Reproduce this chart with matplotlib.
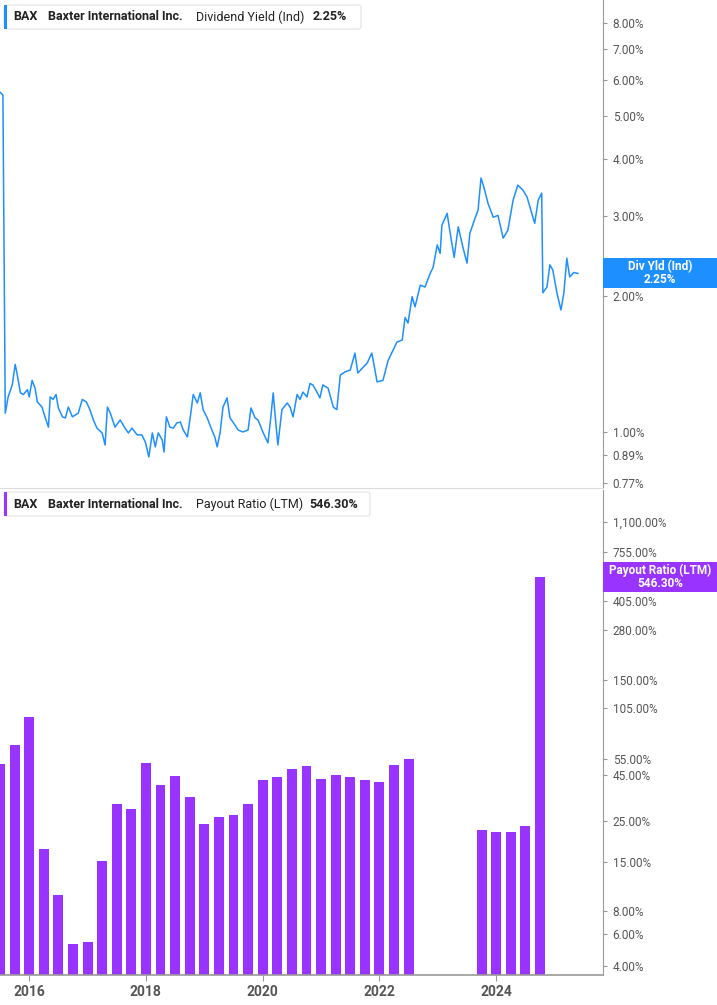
import matplotlib
matplotlib.use("Agg")
import matplotlib.pyplot as plt
from matplotlib.patches import FancyBboxPatch, Rectangle
import numpy as np

plt.rcParams["font.family"] = "Roboto"

# Dividend yield (%) by decimal year
yield_years = [2015.50,2015.55,2015.59,2015.64,2015.71,2015.76,2015.79,2015.85,2015.90,2015.97,2016.00,2016.05,2016.10,2016.14,2016.22,2016.27,2016.33,2016.36,2016.41,2016.46,2016.50,2016.57,2016.62,2016.67,2016.74,2016.79,2016.84,2016.91,2016.98,2017.04,2017.10,2017.16,2017.25,2017.30,2017.34,2017.39,2017.47,2017.56,2017.64,2017.70,2017.76,2017.85,2017.93,2017.99,2018.05,2018.11,2018.16,2018.21,2018.28,2018.31,2018.35,2018.41,2018.47,2018.53,2018.59,2018.64,2018.71,2018.76,2018.81,2018.88,2018.93,2018.98,2019.05,2019.13,2019.18,2019.22,2019.27,2019.32,2019.39,2019.44,2019.49,2019.58,2019.66,2019.75,2019.80,2019.87,2019.92,2020.01,2020.09,2020.14,2020.18,2020.21,2020.26,2020.33,2020.42,2020.47,2020.52,2020.59,2020.64,2020.69,2020.76,2020.81,2020.86,2020.93,2020.98,2021.03,2021.12,2021.21,2021.27,2021.33,2021.41,2021.50,2021.58,2021.63,2021.79,2021.87,2021.96,2022.06,2022.15,2022.30,2022.39,2022.44,2022.49,2022.56,2022.61,2022.70,2022.78,2022.87,2022.92,2022.99,2023.04,2023.07,2023.16,2023.21,2023.28,2023.35,2023.43,2023.50,2023.55,2023.64,2023.69,2023.74,2023.79,2023.86,2023.95,2024.03,2024.12,2024.20,2024.29,2024.37,2024.46,2024.53,2024.61,2024.66,2024.72,2024.78,2024.80,2024.87,2024.92,2024.97,2025.04,2025.11,2025.16,2025.21,2025.26,2025.33,2025.40]
yield_vals = [5.63,5.55,1.10,1.195,1.27,1.41,1.35,1.22,1.21,1.24,1.195,1.30,1.25,1.165,1.135,1.08,1.025,1.195,1.18,1.21,1.13,1.08,1.074,1.135,1.08,1.09,1.10,1.18,1.165,1.12,1.063,1.02,0.995,0.936,1.135,1.10,1.025,1.063,1.02,0.995,1.02,0.985,0.985,0.95,0.881,0.995,0.927,0.995,0.96,0.903,1.08,1.025,1.02,1.047,1.052,1.01,0.975,1.08,1.21,1.159,1.22,1.12,1.074,1.01,0.975,0.927,0.995,1.135,1.189,1.074,1.052,1.01,1.00,1.01,1.13,1.074,1.063,0.995,0.946,1.08,1.22,1.10,0.936,1.12,1.159,1.135,1.08,1.21,1.18,1.225,1.195,1.28,1.27,1.225,1.189,1.27,1.25,1.135,1.12,1.336,1.357,1.37,1.494,1.35,1.42,1.494,1.29,1.30,1.44,1.58,1.596,1.79,1.74,1.99,1.89,2.11,2.09,2.24,2.31,2.59,2.48,2.86,3.04,2.76,2.43,2.84,2.56,2.36,2.75,2.97,3.09,3.64,3.47,3.20,2.98,3.01,2.68,2.79,3.25,3.51,3.42,3.30,3.04,2.89,3.25,3.37,2.03,2.09,2.34,2.28,2.03,1.86,2.03,2.42,2.20,2.25,2.24]

# Payout ratio (LTM, %) quarterly
payout_years = [2015.50 + 0.25 * i for i in range(29)] + [2023.75, 2024.00, 2024.25, 2024.50, 2024.75]
payout_vals = [51.6,65.5,93.4,17.6,9.8,5.3,5.4,15.0,31.0,29.0,52.0,39.6,44.3,34.0,24.1,26.3,27.0,31.0,42.0,43.6,48.3,50.0,42.5,44.6,43.6,42.0,41.0,51.0,55.0,
               22.3,21.8,21.8,23.5,546.3]

yield_ticks = [0.77,0.89,1,2,3,4,5,6,7,8]
yield_labels = ["0.77%","0.89%","1.00%","2.00%","3.00%","4.00%","5.00%","6.00%","7.00%","8.00%"]
payout_ticks = [4,6,8,15,25,45,55,105,150,280,405,755,1100]
payout_labels = ["4.00%","6.00%","8.00%","15.00%","25.00%","45.00%","55.00%","105.00%","150.00%","280.00%","405.00%","755.00%","1,100.00%"]
year_ticks = [2016,2018,2020,2022,2024]

BLUE = "#1e8fff"
PURPLE = "#9933ff"
TXT = "#555555"

fig = plt.figure(figsize=(7.17, 10.05), dpi=100)
ax1 = fig.add_axes([0, 1 - 488/1005, 603/717, 488/1005])
ax2 = fig.add_axes([0, 30/1005, 603/717, 485/1005])

for ax in (ax1, ax2):
    ax.set_xlim(2015.5, 2025.83)
    ax.set_yscale("log")
    ax.yaxis.tick_right()
    for s in ("left", "top"):
        ax.spines[s].set_visible(False)
    ax.spines["right"].set_color("#999999")
    ax.tick_params(axis="y", which="both", direction="out", length=3, color="#999999",
                   labelcolor=TXT, labelsize=8.5, pad=4)
    ax.minorticks_off()

ax1.plot(yield_years, yield_vals, color=BLUE, lw=1.1)
ax1.set_ylim(0.752, 9.0)
ax1.set_yticks(yield_ticks)
ax1.set_yticklabels(yield_labels)
ax1.set_xticks([])
ax1.spines["bottom"].set_color("#dddddd")

ax2.bar(payout_years, payout_vals, width=0.17, color=PURPLE, bottom=0.01)
ax2.set_ylim(3.57, 1650)
ax2.set_yticks(payout_ticks)
ax2.set_yticklabels(payout_labels)
ax2.set_xticks(year_ticks)
ax2.set_xticklabels([str(y) for y in year_ticks])
ax2.tick_params(axis="x", length=4, color="#999999", labelcolor=TXT, labelsize=10)
for l in ax2.get_xticklabels():
    l.set_fontweight("bold")
ax2.spines["bottom"].set_color("#999999")
ax2.spines["bottom"].set_linewidth(1.2)

def legend_box(y_top, color, parts, width):
    h = 24
    fig.patches.append(FancyBboxPatch((4/717, 1 - (y_top + h)/1005), width/717, h/1005,
                                      boxstyle="round,pad=0,rounding_size=0.003",
                                      transform=fig.transFigure, facecolor="white",
                                      edgecolor="#e3e3e3", lw=0.8, zorder=5))
    fig.patches.append(Rectangle((4/717, 1 - (y_top + h)/1005), 2.5/717, h/1005,
                                 transform=fig.transFigure, facecolor=color, zorder=6))
    for x, s, w in parts:
        fig.text(x/717, 1 - (y_top + h/2)/1005, s, fontsize=9, fontweight=w,
                 color="#222222", va="center", ha="left", zorder=7)

legend_box(5, BLUE, [(13, "BAX", "bold"), (48, "Baxter International Inc.", "bold"),
                     (196, "Dividend Yield (Ind)", "normal"), (313, "2.25%", "bold")], 357)
legend_box(492, PURPLE, [(13, "BAX", "bold"), (48, "Baxter International Inc.", "bold"),
                         (196, "Payout Ratio (LTM)", "normal"), (309, "546.30%", "bold")], 366)

def value_tag(yc, color, text):
    h = 30
    fig.patches.append(Rectangle((603/717, 1 - (yc + h/2)/1005), 114/717, h/1005,
                                 transform=fig.transFigure, facecolor=color, zorder=6))
    fig.text(660/717, 1 - yc/1005, text, fontsize=8.5, fontweight="bold", color="white",
             ha="center", va="center", linespacing=1.0, zorder=7)

value_tag(273, BLUE, "Div Yld (Ind)\n2.25%")
value_tag(577, PURPLE, "Payout Ratio (LTM)\n546.30%")

fig.savefig("out.png", dpi=100)
